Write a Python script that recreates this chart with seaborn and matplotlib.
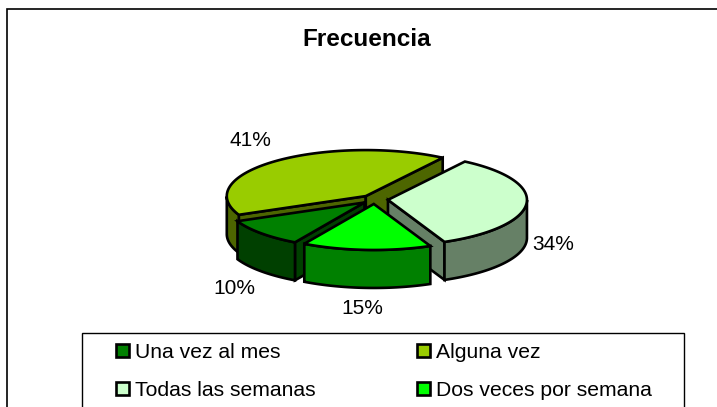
#!/usr/bin/env python3
## 3D looking exploded pie, walls and tops worked out from the percentages

import numpy as np
import matplotlib
matplotlib.use("Agg")
import matplotlib.pyplot as plt
from matplotlib.patches import Polygon, Patch, Rectangle
import seaborn as sb

categories = ["Una vez al mes", "Alguna vez", "Todas las semanas", "Dos veces por semana"]
values = [10, 41, 34, 15]
top_colors = ["#008000", "#99CC00", "#CCFFCC", "#00FF00"]
side_colors = ["#004000", "#4D6600", "#668066", "#008000"]
label_pos = [(234, 289), (250, 140.5), (553.5, 244.5), (362, 308.5)]
draw_order = [1, 2, 0, 3] #back to front
legend_order = [0, 2, 1, 3] #legend fills by column, the picture reads by row

sb.set_style("white")
plt.rcParams["font.family"] = ["Liberation Sans", "DejaVu Sans"]
plt.rcParams["text.color"] = "black"

cx, cy = 374.5, 199.5 #pie centre in pixels
rx, ry = 139, 46
depth = 38
explode = 13.5
start = -120 #clockwise from here
edge_lw = 1.9

fig = plt.figure(figsize=(7.17, 4.07), dpi=100)
ax = fig.add_axes([0, 0, 1, 1])
ax.set_xlim(0, 717)
ax.set_ylim(407, 0)
ax.axis("off")

def pt(a, ox, oy):
    return ox + rx * np.cos(a), oy - ry * np.sin(a)

def face(a, ox, oy, color):
    x, y = pt(a, ox, oy)
    ax.add_patch(Polygon([(ox, oy), (x, y), (x, y + depth), (ox, oy + depth)],
                         fc=color, ec="black", lw=edge_lw))

# box round the chart, cut off by the right and bottom of the picture
ax.add_patch(Rectangle((7, 9), 760, 420, fc="white", ec="black", lw=1.2))

edges = start - np.cumsum([0] + values) * 3.6

for i in draw_order:
    a1, a2 = np.radians(edges[i]), np.radians(edges[i + 1])
    mid = (a1 + a2) / 2
    ox = cx + explode * np.cos(mid)
    oy = cy - explode * ry / rx * np.sin(mid)
    arc = np.linspace(a1, a2, 120)

    if np.sin(a1 + np.pi / 2) < 0:
        face(a1, ox, oy, side_colors[i])
    if np.sin(a2 - np.pi / 2) < 0:
        face(a2, ox, oy, side_colors[i])

    low = arc[np.sin(arc) < 0]
    if len(low) > 0:
        xs, ys = pt(low, ox, oy)
        wall = list(zip(xs, ys)) + list(zip(xs[::-1], ys[::-1] + depth))
        ax.add_patch(Polygon(wall, fc=side_colors[i], ec="black", lw=edge_lw))

    xs, ys = pt(arc, ox, oy)
    top = [(ox, oy)] + list(zip(xs, ys))
    ax.add_patch(Polygon(top, fc=top_colors[i], ec="black", lw=edge_lw))

    ax.text(label_pos[i][0], label_pos[i][1], "%d%%" % values[i], fontsize=15,
            ha="center", va="center")

ax.text(367, 40, "Frecuencia", fontsize=17.5, fontweight="bold", ha="center", va="center")

# legend box runs off the bottom too
ax.add_patch(Rectangle((82, 333), 602, 90, fc="white", ec="black", lw=1))
handles = [Patch(fc=top_colors[i], ec="black", lw=1.9) for i in legend_order]
labels = [categories[i] for i in legend_order]
ax.legend(handles, labels, ncol=2, frameon=False, fontsize=15.2,
          loc="upper left", bbox_to_anchor=(116 / 717, 1 - 343 / 407),
          handlelength=0.62, handleheight=0.62, handletextpad=0.3,
          columnspacing=4.76, labelspacing=0.9, borderpad=0, borderaxespad=0)

fig.savefig("out.png", dpi=100)
plt.close(fig)
